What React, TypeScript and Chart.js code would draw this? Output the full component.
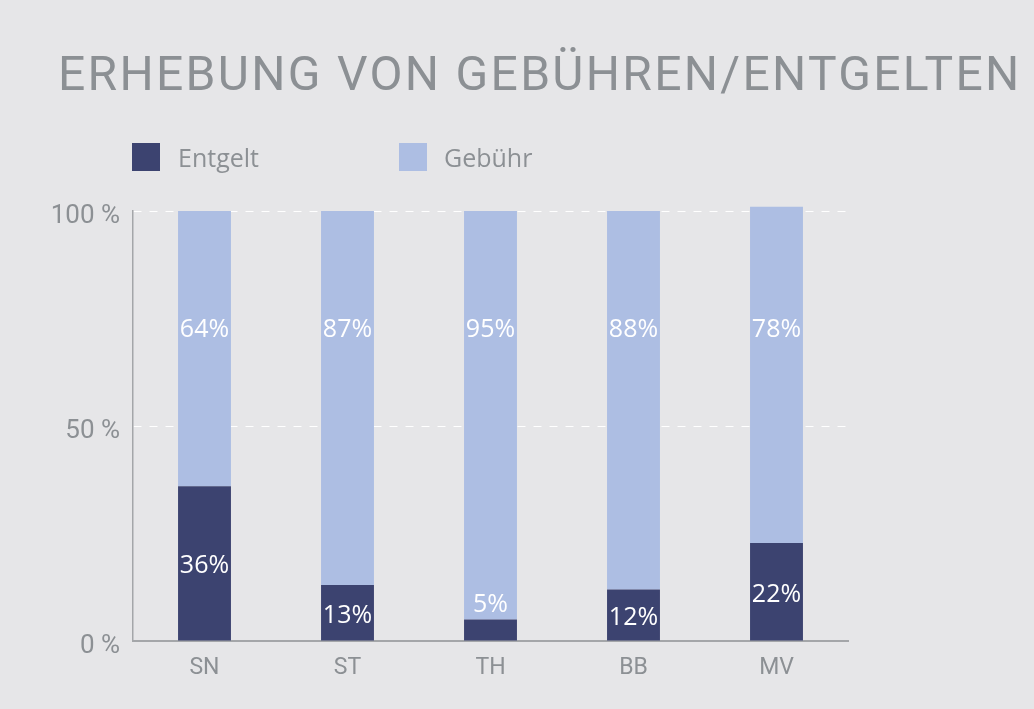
import React, { useEffect, useRef } from "react";
import { Chart, registerables } from "chart.js";

Chart.register(...registerables);

const categories = ["SN", "ST", "TH", "BB", "MV"];
const entgelt = [36, 13, 5, 12, 22.8];
const gebuehr = [64, 87, 95, 88, 78.2];
const yTicks = [0, 50, 100];

const DARK = "#3c4370";
const LIGHT = "#adbee3";
const BG = "#e6e6e8";
const GREY = "#8c9094";
const AXIS = "#a4a6a9";

const labelPlugin = {
  id: "segLabels",
  afterDatasetsDraw(chart: any) {
    const ctx = chart.ctx;
    const yScale = chart.scales.y;
    ctx.save();
    ctx.fillStyle = "#ffffff";
    ctx.font = '25px "Open Sans"';
    ctx.textAlign = "center";
    ctx.textBaseline = "middle";
    chart.data.datasets.forEach((ds: any, di: number) => {
      const meta = chart.getDatasetMeta(di);
      meta.data.forEach((bar: any, i: number) => {
        const v = ds.data[i];
        const txt = Math.floor(v + 1e-9) + "%";
        const { x, y, base } = bar.getProps(["x", "y", "base"], true);
        let ly: number;
        if (di === 0) {
          const h = base - y;
          ly = h < 30 ? y - 15 : (y + base) / 2 + 3;
        } else {
          ly = yScale.getPixelForValue(73) + 3;
        }
        ctx.fillText(txt, x, ly);
      });
    });
    ctx.restore();
  },
};

export default function App() {
  const ref = useRef<HTMLCanvasElement>(null);

  useEffect(() => {
    document.body.style.margin = "0";
    document.body.style.background = BG;
    const chart = new Chart(ref.current!, {
      type: "bar",
      data: {
        labels: categories,
        datasets: [
          { label: "Entgelt", data: entgelt, backgroundColor: DARK, borderWidth: 0, clip: false as any },
          { label: "Gebühr", data: gebuehr, backgroundColor: LIGHT, borderWidth: 0, clip: false as any },
        ],
      },
      options: {
        responsive: false,
        animation: false,
        datasets: { bar: { barPercentage: 0.37, categoryPercentage: 1 } },
        layout: { padding: { left: 0, right: 186, top: 211, bottom: 0 } },
        plugins: { legend: { display: false }, title: { display: false }, tooltip: { enabled: false } },
        scales: {
          x: {
            stacked: true,
            grid: { display: false, drawTicks: false },
            border: { color: AXIS, width: 2 },
            ticks: { color: GREY, font: { family: "Roboto", size: 23 }, padding: 13 },
            afterFit: (s: any) => {
              s.height = 68;
            },
          },
          y: {
            stacked: true,
            min: 0,
            max: 100,
            afterBuildTicks: (s: any) => {
              s.ticks = yTicks.map((v) => ({ value: v }));
            },
            ticks: {
              color: GREY,
              font: { family: "Roboto", size: 26 },
              padding: 13,
              labelOffset: 5,
              callback: (v: any) => v + " %",
            },
            grid: {
              color: (c: any) => (c.tick && c.tick.value === 0 ? "rgba(0,0,0,0)" : "#ffffff"),
              drawTicks: false,
              lineWidth: 1,
            },
            border: { color: AXIS, width: 1.5, dash: [8, 8] },
            afterFit: (s: any) => {
              s.width = 133;
            },
          },
        },
      },
      plugins: [labelPlugin],
    });
    return () => chart.destroy();
  }, []);

  return (
    <div style={{ position: "fixed", left: 0, top: 0, width: 1034, height: 709, background: BG, overflow: "hidden" }}>
      <canvas ref={ref} width={1034} height={709} style={{ position: "absolute", left: 0, top: 0, width: 1034, height: 709 }} />
      <div
        style={{
          position: "absolute",
          left: 58,
          top: 50,
          fontFamily: "Roboto",
          fontSize: 48,
          lineHeight: "48px",
          letterSpacing: 2.3,
          color: GREY,
          whiteSpace: "nowrap",
        }}
      >
        ERHEBUNG VON GEBÜHREN/ENTGELTEN
      </div>
      {[
        { label: "Entgelt", color: DARK, boxX: 132, textX: 178 },
        { label: "Gebühr", color: LIGHT, boxX: 399, textX: 444 },
      ].map((it) => (
        <React.Fragment key={it.label}>
          <div style={{ position: "absolute", left: it.boxX, top: 143, width: 28, height: 28, background: it.color }} />
          <div
            style={{
              position: "absolute",
              left: it.textX,
              top: 143,
              fontFamily: '"Open Sans"',
              fontSize: 25,
              lineHeight: "28px",
              color: GREY,
              whiteSpace: "nowrap",
            }}
          >
            {it.label}
          </div>
        </React.Fragment>
      ))}
    </div>
  );
}
